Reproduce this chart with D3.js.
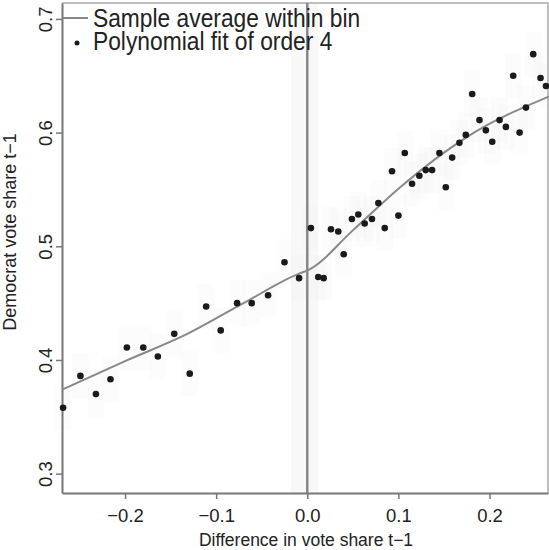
<!DOCTYPE html>
<html>
<head>
<meta charset="utf-8">
<script src="https://cdn.jsdelivr.net/npm/d3@7"></script>
<style>
  body { margin: 0; background: #fff; }
  svg { display: block; font-family: "Liberation Sans", Arial, sans-serif; }
</style>
</head>
<body>
<svg id="chart" width="549" height="550"></svg>
<script>
// Bin midpoints (difference in vote share t-1) and bin means
const binX = [-0.268, -0.249, -0.232, -0.216, -0.198, -0.180, -0.164, -0.146, -0.129, -0.111,
              -0.095, -0.077, -0.061, -0.043, -0.025, -0.009,
              0.004, 0.012, 0.018, 0.026, 0.034, 0.040, 0.049, 0.056, 0.063, 0.071,
              0.078, 0.085, 0.093, 0.100, 0.107, 0.115, 0.123, 0.130, 0.137, 0.145,
              0.152, 0.159, 0.167, 0.174, 0.181, 0.189, 0.196, 0.203, 0.211, 0.218,
              0.226, 0.233, 0.240, 0.248, 0.256, 0.262];
const binY = [0.358, 0.386, 0.370, 0.383, 0.411, 0.411, 0.403, 0.423, 0.388, 0.447,
              0.426, 0.450, 0.450, 0.457, 0.486, 0.472,
              0.516, 0.473, 0.472, 0.515, 0.513, 0.493, 0.524, 0.528, 0.520, 0.524,
              0.538, 0.516, 0.566, 0.527, 0.582, 0.555, 0.562, 0.567, 0.567, 0.582,
              0.552, 0.578, 0.591, 0.598, 0.634, 0.611, 0.602, 0.592, 0.611, 0.605,
              0.650, 0.600, 0.622, 0.669, 0.648, 0.641];

// Smoothed fit
const fitX = [-0.269, -0.200, -0.134, -0.070, -0.009, 0.001, 0.050, 0.102, 0.175, 0.266];
const fitY = [0.374, 0.399, 0.422, 0.450, 0.476, 0.479, 0.514, 0.552, 0.596, 0.632];

const xTicks = [-0.2, -0.1, 0.0, 0.1, 0.2];
const yTicks = [0.3, 0.4, 0.5, 0.6, 0.7];
const legendLabels = ["Sample average within bin", "Polynomial fit of order 4"];

const svg = d3.select("#chart");
const pLeft = 62, pRight = 548, pTop = 3, pBottom = 493;

const x = d3.scaleLinear().domain([-0.2692, 0.2642]).range([pLeft, pRight]);
const y = d3.scaleLinear().domain([0.283, 0.714]).range([pBottom, pTop]);

const fmt = d => (d < 0 ? "\u2212" : "") + Math.abs(d).toFixed(1);

// faint shading around bins
const g = svg.append("g");
g.append("rect")
  .attr("x", x(-0.018)).attr("width", x(0.012) - x(-0.018))
  .attr("y", pTop).attr("height", pBottom - pTop)
  .attr("fill", "#f8f8f8");
g.selectAll("rect.ci")
  .data(binX.map((d, i) => [d, binY[i]]))
  .enter().append("rect")
  .attr("class", "ci")
  .attr("x", d => x(d[0] - 0.009))
  .attr("width", x(0.018) - x(0))
  .attr("y", d => y(d[1] + 0.02))
  .attr("height", y(0) - y(0.04))
  .attr("fill", "#eeeeee")
  .attr("opacity", 0.18);

// frame
svg.append("path")
  .attr("d", `M${pLeft},${pTop}H${pRight}V${pBottom}`)
  .attr("fill", "none").attr("stroke", "#aaa").attr("stroke-width", 1.5);

// axes
const xAxis = svg.append("g")
  .attr("transform", `translate(0,${pBottom})`)
  .call(d3.axisBottom(x).tickValues(xTicks).tickFormat(fmt).tickSize(6).tickSizeOuter(0));
const yAxis = svg.append("g")
  .attr("transform", `translate(${pLeft},0)`)
  .call(d3.axisLeft(y).tickValues(yTicks).tickFormat(d => d.toFixed(1)).tickSize(6).tickSizeOuter(0));

[xAxis, yAxis].forEach(a => {
  a.select(".domain").attr("stroke", "#777").attr("stroke-width", 2);
  a.selectAll(".tick line").attr("stroke", "#777").attr("stroke-width", 1.5);
  a.selectAll("text").attr("fill", "#222").style("font-size", "18.5px");
});
xAxis.selectAll("text").attr("dy", null).attr("y", 29);
yAxis.selectAll("text")
  .attr("x", null).attr("dy", null)
  .attr("text-anchor", "middle")
  .attr("transform", "translate(-10,0) rotate(-90)");

// cutoff line
svg.append("line")
  .attr("x1", x(0)).attr("x2", x(0))
  .attr("y1", pTop).attr("y2", pBottom)
  .attr("stroke", "#888").attr("stroke-width", 2.5);

// fit line
const line = d3.line()
  .x((d, i) => x(fitX[i]))
  .y(d => y(d))
  .curve(d3.curveMonotoneX);
svg.append("path")
  .datum(fitY)
  .attr("d", line)
  .attr("fill", "none")
  .attr("stroke", "#888")
  .attr("stroke-width", 2);

// bin means
svg.append("g").selectAll("circle")
  .data(binX)
  .enter().append("circle")
  .attr("cx", d => x(d))
  .attr("cy", (d, i) => y(binY[i]))
  .attr("r", 3.3)
  .attr("fill", "#1a1a1a");

// axis titles
svg.append("text")
  .attr("x", 306).attr("y", 546)
  .attr("text-anchor", "middle")
  .style("font-size", "17.5px").attr("fill", "#222")
  .text("Difference in vote share t\u22121");
svg.append("text")
  .attr("transform", "translate(16,232) rotate(-90)")
  .attr("text-anchor", "middle")
  .style("font-size", "18px").attr("fill", "#222")
  .text("Democrat vote share t\u22121");

// legend
const leg = svg.append("g");
leg.append("line")
  .attr("x1", 63).attr("x2", 88).attr("y1", 18).attr("y2", 18)
  .attr("stroke", "#888").attr("stroke-width", 2);
leg.append("circle")
  .attr("cx", 77).attr("cy", 43).attr("r", 2.5).attr("fill", "#1a1a1a");
leg.selectAll("text")
  .data(legendLabels)
  .enter().append("text")
  .attr("transform", (d, i) => `translate(93,${27 + i * 23}) scale(1,1.1)`)
  .style("font-size", "22.8px")
  .attr("fill", "#222")
  .text(d => d);
</script>
</body>
</html>
